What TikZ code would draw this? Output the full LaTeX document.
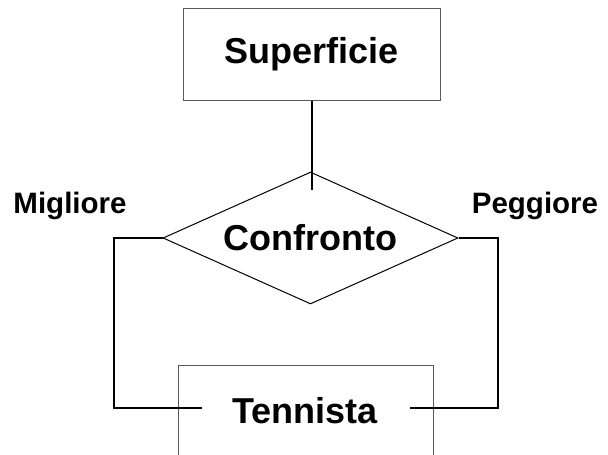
\documentclass[tikz,border=0pt]{standalone}
\usepackage{fontspec}
\setmainfont{Liberation Sans}
\usetikzlibrary{shapes.geometric}
\begin{document}
\begin{tikzpicture}[x=1pt,y=-1pt,
  big/.style={font=\fontsize{36}{43}\selectfont\bfseries},
  small/.style={font=\fontsize{29.5}{35}\selectfont\bfseries},
  entity/.style={draw=black!65,line width=1pt,rectangle,inner sep=0pt},
  relation/.style={draw=black,line width=1pt,diamond,aspect=2.23,minimum width=295pt,minimum height=132pt,inner sep=0pt},
  link/.style={draw=black,line width=2.6pt}]
\useasboundingbox (0,0) rectangle (608,455);
\clip (0,0) rectangle (608,455);
\node[entity,big,minimum width=257pt,minimum height=92pt] (sup) at (311.5,54) {Superficie};
\node[relation,big] (conf) at (310.5,238) {Confronto};
\node[entity,minimum width=255pt,minimum height=200pt,anchor=north] (tenbox) at (305.5,365) {};
\node[big,anchor=base] (ten) at (305,423) {Tennista};
\node[small,anchor=base] (mig) at (70,213) {Migliore};
\node[small,anchor=base] (peg) at (535,213) {Peggiore};
\coordinate (cin) at (312,190);
\coordinate (lx) at (114,408);
\coordinate (rx) at (498,408);
\coordinate (tl) at (202,408);
\coordinate (tr) at (410,408);
\draw[link] (sup.south -| cin) -- (cin);
\draw[link] (conf.west) -- (conf.west -| lx) -- (lx) -- (tl);
\draw[link] (conf.east) -- (conf.east -| rx) -- (rx) -- (tr);
\end{tikzpicture}
\end{document}
